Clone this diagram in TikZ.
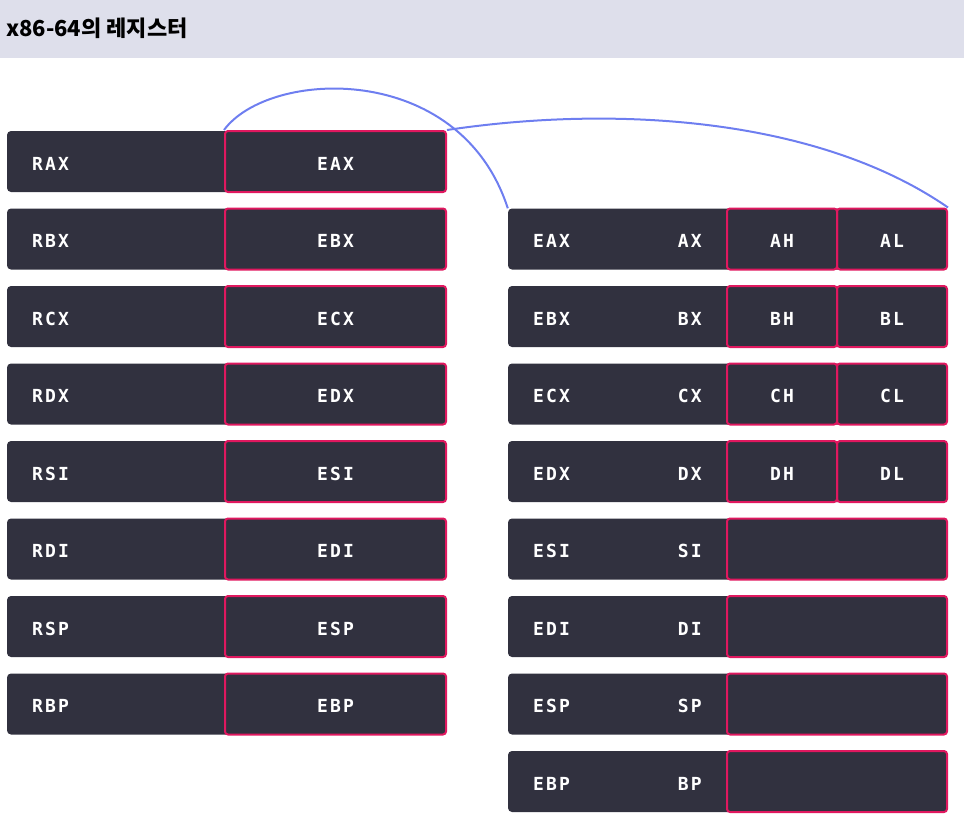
\documentclass[tikz,border=0pt]{standalone}
\usepackage{fontspec}
\newfontfamily\krfont{Noto Sans CJK KR}
\newfontfamily\regfont{DejaVu Sans Mono}[LetterSpace=12]
\definecolor{headbg}{HTML}{DEDFEB}
\definecolor{regbg}{HTML}{31313F}
\definecolor{regpink}{HTML}{E0185F}
\definecolor{linkblue}{HTML}{6E7EF0}

\begin{document}
\begin{tikzpicture}[x=1pt,y=-1pt,
	regbox/.style={fill=regbg,rounded corners=4pt,minimum height=61pt,inner sep=0pt},
	subbox/.style={draw=regpink,line width=2pt,rounded corners=3pt,minimum height=61pt,inner sep=0pt},
	reglabel/.style={text=white,font=\regfont\bfseries\fontsize{18}{18}\selectfont,inner sep=0pt,yshift=-2pt},
	link/.style={draw=linkblue,line width=2pt}]
	\useasboundingbox (0,0) rectangle (964,825);
	% header band
	\fill[headbg] (0,0) rectangle (964,58);
	\node[anchor=west,inner sep=0pt,font=\krfont\bfseries\fontsize{22}{22}\selectfont] (title) at (6,28) {x86-64의 레지스터};
	% 64-bit registers (left column)
	\foreach \r/\e [count=\i] in {RAX/EAX,RBX/EBX,RCX/ECX,RDX/EDX,RSI/ESI,RDI/EDI,RSP/ESP,RBP/EBP}
	{
		\node[regbox,minimum width=439pt] (l\i) at (226.5,{161.5+(\i-1)*77.5}) {};
		\node[subbox,minimum width=221pt] (le\i) at (335.5,{161.5+(\i-1)*77.5}) {};
		\node[reglabel,anchor=west] (lr\i) at (32,{161.5+(\i-1)*77.5}) {\r};
		\node[reglabel] (lt\i) at (le\i) {\e};
	}
	% 32-bit registers (right column)
	\foreach \e/\x [count=\i] in {EAX/AX,EBX/BX,ECX/CX,EDX/DX,ESI/SI,EDI/DI,ESP/SP,EBP/BP}
	{
		\node[regbox,minimum width=439pt] (r\i) at (727.5,{239+(\i-1)*77.5}) {};
		\node[reglabel,anchor=west] (re\i) at (533,{239+(\i-1)*77.5}) {\e};
		\node[reglabel,anchor=east] (rx\i) at (702,{239+(\i-1)*77.5}) {\x};
	}
	% high and low bytes
	\foreach \h/\l [count=\i] in {AH/AL,BH/BL,CH/CL,DH/DL}
	{
		\node[subbox,minimum width=110pt] (rh\i) at (782,{239+(\i-1)*77.5}) {};
		\node[subbox,minimum width=110pt] (rl\i) at (892,{239+(\i-1)*77.5}) {};
		\node[reglabel] at (rh\i) {\h};
		\node[reglabel] at (rl\i) {\l};
	}
	\foreach \i in {5,...,8}
		\node[subbox,minimum width=220pt] (rs\i) at (837,{239+(\i-1)*77.5}) {};
	% links from EAX to the right column
	\draw[link] (le1.north west) .. controls +(45,-61) and +(-48,-148) .. (r1.north west);
	\draw[link] (le1.north east) .. controls +(174,-26) and +(-127,-88) .. (rl1.north east);
\end{tikzpicture}
\end{document}
